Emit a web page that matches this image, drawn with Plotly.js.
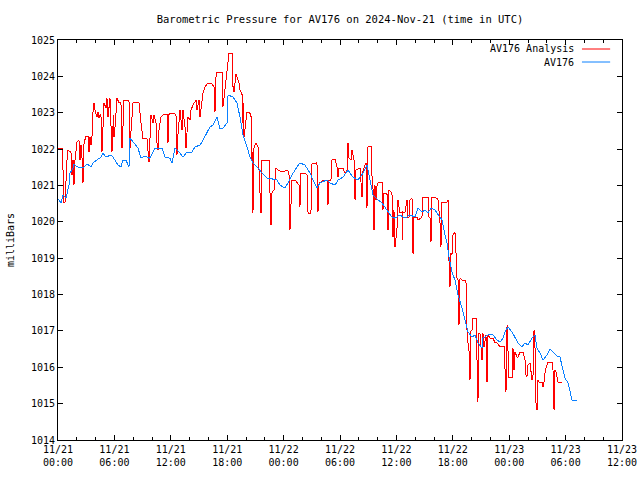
<!DOCTYPE html>
<html>
<head>
<meta charset="utf-8">
<script src="https://cdn.plot.ly/plotly-3.0.1.min.js"></script>
<style>html,body{margin:0;padding:0;background:#fff}#chart{width:640px;height:480px}
#chart .scatterlayer path.js-line{shape-rendering:crispEdges}</style>
</head>
<body>
<div id="chart"></div>
<script>
// hours after 2024-11-21 00:00 UTC, and pressure in millibars
const analysisHours = [0,0.43,0.45,0.53,0.64,0.74,0.96,1.06,1.38,1.49,1.60,1.70,1.81,2.02,2.23,2.34,2.45,2.55,2.66,2.77,2.98,3.19,3.30,3.40,3.51,3.62,3.72,3.83,3.94,4.15,4.26,4.36,4.47,4.57,4.68,4.79,4.89,5.11,5.21,5.32,5.43,5.53,5.74,5.85,5.90,5.96,6.06,6.28,6.49,6.70,6.81,6.91,7.02,7.55,7.66,7.77,7.98,8.09,8.62,8.83,9.04,9.47,9.57,9.68,9.89,10.11,10.21,10.43,10.53,10.64,10.74,10.96,11.17,11.60,11.70,11.81,12.13,12.55,12.66,12.77,12.98,13.19,13.30,13.51,13.62,13.72,13.83,14.04,14.15,14.36,14.47,14.68,14.79,15.00,15.11,15.21,15.32,15.43,15.64,15.96,16.38,16.60,16.70,16.81,16.91,17.45,17.55,17.77,17.98,18.09,18.19,18.51,18.56,18.62,18.72,18.94,19.15,19.26,19.36,19.57,19.68,19.73,19.79,20.00,20.11,20.32,20.53,20.64,20.69,20.74,20.85,21.06,21.28,21.49,21.60,21.70,22.45,22.66,22.77,22.98,23.19,23.40,23.94,24.36,24.57,24.68,24.89,25.21,25.43,25.64,25.74,25.85,26.28,26.49,26.60,26.91,27.02,27.55,27.66,27.77,27.98,28.19,28.62,28.72,28.83,29.04,29.15,29.47,29.68,29.79,29.89,30.32,30.53,30.74,30.85,30.96,31.17,31.28,31.38,31.49,31.60,31.70,32.13,32.34,32.45,32.77,32.87,32.98,33.30,33.35,33.51,33.62,33.72,33.83,33.94,34.04,34.47,34.57,34.68,35.00,35.11,35.21,35.53,35.64,35.74,35.85,36.06,36.17,36.38,36.60,36.65,36.70,36.91,37.02,37.13,37.23,37.34,37.45,37.66,37.77,37.87,38.19,38.30,38.72,38.83,39.36,39.47,39.57,39.68,39.79,40.32,40.43,40.64,40.74,40.85,41.38,41.49,41.60,41.70,41.81,41.91,42.02,42.23,42.34,42.45,42.55,42.66,42.77,42.98,43.40,43.51,43.62,43.72,43.83,43.94,44.04,44.15,44.47,44.57,44.68,44.73,44.89,45.11,45.21,45.32,45.53,45.64,45.74,45.96,46.28,46.49,46.70,47.02,47.45,47.55,47.66,47.77,47.82,47.87,47.98,48.30,48.40,48.51,48.62,48.83,48.94,49.15,49.47,49.68,49.79,49.89,50.00,50.21,50.43,50.53,50.58,50.64,50.74,50.85,50.96,51.06,51.17,51.49,51.60,51.70,51.81,51.91,52.13,52.55,52.66,52.77,52.87,52.98,53.19,53.40,53.62];
const analysisMb = [1022.03,1022.03,1021.48,1021.48,1020.52,1020.52,1021.70,1021.97,1021.92,1021.29,1021.70,1021.01,1021.70,1022.19,1022.25,1021.70,1022.11,1021.78,1021.07,1022.17,1022.36,1022.36,1021.92,1022.33,1022.11,1022.36,1023.02,1023.27,1023.07,1022.88,1023.02,1022.85,1022.94,1022.94,1021.92,1022.61,1023.27,1023.13,1023.40,1022.88,1023.13,1023.40,1021.92,1022.72,1022.94,1022.33,1022.58,1023.40,1023.27,1023.27,1022.03,1022.58,1023.35,1023.35,1022.03,1022.52,1023.27,1023.29,1023.27,1022.72,1022.28,1022.28,1022.03,1021.64,1022.94,1022.72,1022.94,1022.72,1022.17,1021.97,1022.52,1022.88,1022.94,1022.94,1022.17,1022.96,1022.99,1022.96,1021.84,1022.44,1023.07,1022.52,1023.07,1022.61,1022.03,1022.52,1022.88,1022.80,1023.07,1023.21,1023.27,1023.35,1023.07,1023.35,1022.88,1023.07,1023.27,1023.54,1023.71,1023.82,1023.79,1023.71,1023.02,1023.98,1024.12,1024.12,1023.16,1023.71,1024.17,1024.50,1024.64,1024.64,1024.40,1023.71,1023.57,1024.06,1023.93,1023.82,1023.62,1023.54,1022.72,1023.27,1022.33,1022.74,1023.02,1023.02,1022.94,1021.70,1021.92,1020.24,1022.03,1022.17,1022.06,1020.79,1020.24,1021.70,1021.70,1019.91,1020.82,1020.87,1021.48,1021.42,1021.37,1021.42,1021.37,1019.77,1021.15,1021.15,1021.07,1021.01,1020.41,1021.34,1021.34,1021.29,1020.24,1020.24,1021.59,1021.62,1020.27,1021.07,1021.09,1021.15,1021.15,1020.46,1021.15,1021.15,1021.70,1021.73,1021.51,1021.23,1021.48,1021.48,1021.34,1021.37,1022.17,1021.75,1021.70,1021.97,1021.84,1021.70,1020.60,1021.42,1021.48,1020.68,1021.42,1021.62,1020.38,1022.06,1022.06,1021.42,1020.93,1019.77,1021.01,1020.60,1021.01,1021.07,1021.07,1020.32,1020.79,1020.76,1019.77,1020.87,1020.79,1019.58,1020.32,1019.31,1019.77,1020.60,1020.24,1020.27,1019.50,1020.24,1020.27,1020.52,1020.60,1020.13,1020.13,1020.60,1020.65,1019.11,1020.13,1020.13,1020.05,1020.13,1020.68,1020.68,1020.13,1020.13,1019.44,1020.68,1020.65,1020.60,1019.97,1019.31,1020.54,1020.54,1020.60,1018.87,1018.21,1019.14,1019.09,1019.64,1019.72,1019.14,1018.45,1018.45,1017.16,1018.45,1018.40,1018.40,1017.02,1016.67,1016.47,1015.65,1017.02,1017.02,1017.35,1017.35,1016.47,1015.04,1016.94,1016.94,1016.20,1016.94,1016.56,1016.89,1015.59,1016.89,1016.80,1016.80,1016.67,1016.67,1016.56,1016.56,1015.98,1015.32,1017.16,1016.80,1016.20,1015.73,1015.73,1016.53,1015.92,1016.42,1016.28,1016.28,1016.42,1016.42,1016.20,1015.79,1015.73,1016.06,1016.12,1015.65,1015.73,1016.89,1017.02,1016.61,1015.02,1014.82,1015.65,1015.59,1015.59,1015.46,1015.59,1015.84,1015.98,1016.14,1016.14,1015.92,1014.82,1015.92,1015.87,1015.59,1015.57,1015.57];

const stationHours = [0,0.32,0.53,0.85,1.17,1.28,1.60,1.70,2.02,2.66,3.09,3.51,3.72,4.26,4.57,4.79,5.11,5.64,5.85,6.38,6.70,6.91,7.23,7.55,7.66,8.09,8.51,8.83,9.26,9.47,9.79,10.32,11.06,11.38,11.91,12.13,12.23,12.45,12.98,13.30,13.72,14.26,14.57,15.11,15.43,15.85,16.17,16.49,16.91,17.23,17.55,17.98,18.09,18.62,19.04,19.36,19.68,20.11,20.43,20.74,21.28,21.70,22.23,22.77,23.30,23.62,24.15,24.47,24.89,25.43,25.74,26.28,26.81,27.13,27.55,27.87,28.62,28.94,29.47,29.79,30.32,30.85,31.38,31.91,32.45,32.87,33.19,33.51,34.04,34.47,35.00,35.53,35.85,36.38,36.91,37.45,37.98,38.30,38.72,39.04,39.36,39.68,40.11,40.43,40.85,41.06,41.38,41.60,41.91,42.23,42.55,42.98,43.30,43.62,44.04,44.36,44.68,45.11,45.21,45.74,46.28,46.70,47.02,47.34,47.55,47.87,48.30,48.62,48.94,49.36,49.68,50.00,50.43,50.74,50.96,51.28,51.60,52.02,52.34,52.66,53.09,53.40,53.62,53.94,54.26,54.68,55.21];
const stationMb = [1020.63,1020.52,1020.74,1020.65,1021.01,1021.34,1021.48,1021.59,1021.51,1021.48,1021.59,1021.51,1021.62,1021.73,1021.78,1021.89,1021.78,1021.84,1021.78,1021.56,1021.51,1021.70,1021.70,1021.51,1022.30,1022.17,1022.03,1021.75,1021.81,1021.78,1021.75,1022.03,1022.03,1021.78,1021.75,1021.62,1021.78,1022.03,1021.89,1021.78,1021.92,1021.92,1022.06,1022.11,1022.25,1022.44,1022.61,1022.66,1022.88,1022.55,1022.58,1022.72,1023.49,1023.43,1023.27,1022.88,1022.39,1022.06,1021.78,1021.62,1021.48,1021.34,1021.20,1021.18,1021.15,1021.01,1020.93,1021.07,1021.29,1021.51,1021.62,1021.56,1021.34,1021.15,1020.93,1021.07,1021.15,1021.07,1021.01,1021.15,1021.23,1021.42,1021.23,1021.15,1021.34,1021.56,1021.15,1020.74,1020.60,1020.52,1020.32,1020.13,1020.10,1020.19,1020.10,1020.19,1020.13,1020.38,1020.27,1020.32,1020.24,1020.38,1020.32,1020.19,1020.05,1019.77,1019.42,1019.03,1018.62,1018.40,1017.99,1017.63,1017.30,1016.97,1016.83,1016.89,1016.67,1016.53,1016.80,1016.89,1016.89,1016.75,1016.69,1016.80,1016.97,1017.11,1016.97,1016.83,1016.67,1016.56,1016.67,1016.61,1016.80,1016.89,1016.53,1016.39,1016.20,1016.34,1016.50,1016.42,1016.31,1016.28,1016.06,1015.70,1015.57,1015.10,1015.10];

const seriesNames = ["AV176 Analysis", "AV176"];
const seriesColors = ["#ff0000", "#0a80ff"];
const titleText = "Barometric Pressure for AV176 on 2024-Nov-21 (time in UTC)";
const yTitle = "milliBars";

const start = Date.UTC(2024, 10, 21, 0, 0, 0);
const toMs = h => start + h * 3600e3;

const FONT = {family: "DejaVu Sans Mono, monospace", size: 10, color: "#000"};

const traces = [
  {x: analysisHours.map(toMs), y: analysisMb, type: "scatter", mode: "lines",
   name: seriesNames[0], line: {color: seriesColors[0], width: 1}, showlegend: false},
  {x: stationHours.map(toMs), y: stationMb, type: "scatter", mode: "lines",
   name: seriesNames[1], line: {color: seriesColors[1], width: 1}, showlegend: false}
];

const layout = {
  width: 640, height: 480,
  margin: {l: 58, r: 18, t: 40, b: 40, pad: 0},
  paper_bgcolor: "#fff", plot_bgcolor: "#fff",
  font: FONT,
  showlegend: false,
  title: {text: titleText, font: {family: FONT.family, size: 10.5, color: "#000"},
          xref: "paper", x: 0.5, xanchor: "center", yref: "container", y: 0.96, yanchor: "middle"},
  xaxis: {
    type: "date",
    range: [toMs(0), toMs(60)],
    tick0: toMs(0), dtick: 6 * 3600e3,
    tickformat: "%m/%d<br>%H:%M",
    ticks: "inside", ticklen: 5, tickcolor: "#000", tickwidth: 1,
    minor: {dtick: 2 * 3600e3, ticks: "inside", ticklen: 3, tickcolor: "#000", tickwidth: 1, showgrid: false},
    showline: true, linecolor: "#000", linewidth: 1, mirror: "allticks",
    showgrid: false, zeroline: false, fixedrange: true,
    tickfont: FONT
  },
  yaxis: {
    range: [1014, 1025], dtick: 1, tick0: 1014,
    ticks: "inside", ticklen: 5, tickcolor: "#000", tickwidth: 1,
    showline: true, linecolor: "#000", linewidth: 1, mirror: "allticks",
    showgrid: false, zeroline: false, fixedrange: true,
    tickfont: FONT,
    title: {text: yTitle, font: FONT, standoff: 14}
  },
  annotations: [
    {text: seriesNames[0], xref: "paper", yref: "paper", x: 0.919, y: 0.9775, xanchor: "right", yanchor: "middle", showarrow: false, font: FONT},
    {text: seriesNames[1], xref: "paper", yref: "paper", x: 0.919, y: 0.945, xanchor: "right", yanchor: "middle", showarrow: false, font: FONT}
  ],
  shapes: [
    {type: "line", xref: "paper", yref: "paper", x0: 0.929, x1: 0.979, y0: 0.9775, y1: 0.9775, line: {color: seriesColors[0], width: 1}},
    {type: "line", xref: "paper", yref: "paper", x0: 0.929, x1: 0.979, y0: 0.945, y1: 0.945, line: {color: seriesColors[1], width: 1}}
  ]
};

Plotly.newPlot("chart", traces, layout, {staticPlot: true, displayModeBar: false});
</script>
</body>
</html>
